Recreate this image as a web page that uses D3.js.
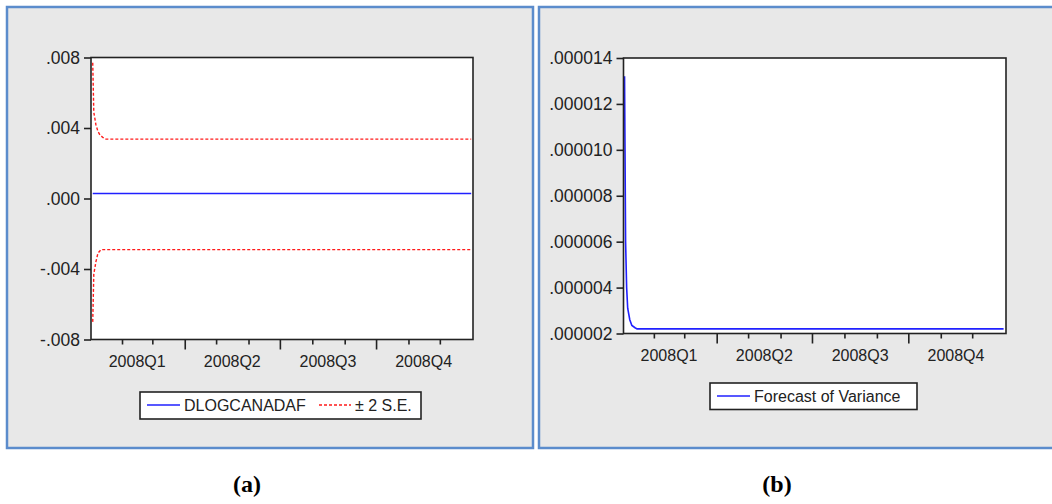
<!DOCTYPE html>
<html>
<head>
<meta charset="utf-8">
<script src="https://cdn.jsdelivr.net/npm/d3@7"></script>
<style>
  body { margin: 0; background: #fff; }
  svg { display: block; font-family: "Liberation Sans", Arial, sans-serif; }
</style>
</head>
<body>
<svg id="chart" width="1052" height="504"></svg>
<script>
// forecast of DLOGCANADAF, 2008 (daily), flat after the first days
const meanDates = ["2008-01-04", "2008-12-31"]
const meanValues = [0.00028, 0.00028]

const upperDates = ["2008-01-04", "2008-01-05", "2008-01-07", "2008-01-09", "2008-01-11", "2008-01-14", "2008-01-16", "2008-12-31"]
const upperValues = [0.0077, 0.0049, 0.0042, 0.0038, 0.0036, 0.00345, 0.00337, 0.00337]

const lowerDates = ["2008-01-04", "2008-01-05", "2008-01-07", "2008-01-09", "2008-01-12", "2008-12-31"]
const lowerValues = [-0.0070, -0.0043, -0.0036, -0.0031, -0.0029, -0.0029]

const varDates = ["2008-01-04", "2008-01-05", "2008-01-06", "2008-01-07", "2008-01-09", "2008-01-11", "2008-01-14", "2008-01-16", "2008-12-31"]
const varValues = [0.0000132, 0.0000060, 0.0000040, 0.0000031, 0.0000026, 0.00000235, 0.00000225, 0.0000022, 0.0000022]

const ticksA = [-0.008, -0.004, 0, 0.004, 0.008]
const ticksB = [0.000002, 0.000004, 0.000006, 0.000008, 0.000010, 0.000012, 0.000014]
const quarterLabels = ["2008Q1", "2008Q2", "2008Q3", "2008Q4"]

const parse = d3.timeParse("%Y-%m-%d")
const zip = (dates, values) => dates.map((d, i) => ({ date: parse(d), value: values[i] }))

const svg = d3.select("#chart")

function panelBox(x0, x1) {
  svg.append("rect")
    .attr("x", x0).attr("y", 7).attr("width", x1 - x0).attr("height", 441)
    .attr("fill", "#e8e8e8").attr("stroke", "#5b8ccc").attr("stroke-width", 2.5)
}

function drawPanel({ frame, dayRange, yDomain, yTicks, yFormat, series, labelY, legend }) {
  const [left, top, right, bottom] = frame
  const x = d3.scaleTime()
    .domain([parse("2008-01-01"), parse("2008-12-31")])
    .range(dayRange)
  const y = d3.scaleLinear().domain(yDomain).range([bottom, top])

  svg.append("rect")
    .attr("x", left).attr("y", top).attr("width", right - left).attr("height", bottom - top)
    .attr("fill", "#fff")

  const line = d3.line().x(d => x(d.date)).y(d => y(d.value))
  series.forEach(s => {
    svg.append("path")
      .datum(s.data)
      .attr("fill", "none")
      .attr("stroke", s.color)
      .attr("stroke-width", s.width)
      .attr("stroke-dasharray", s.dash || null)
      .attr("d", line)
  })

  svg.append("rect")
    .attr("x", left).attr("y", top).attr("width", right - left).attr("height", bottom - top)
    .attr("fill", "none").attr("stroke", "#222").attr("stroke-width", 1.6)

  // y axis
  const gy = svg.append("g")
    .attr("transform", `translate(${left},0)`)
    .call(d3.axisLeft(y).tickValues(yTicks).tickSize(7).tickPadding(4).tickFormat(yFormat))
  gy.select(".domain").remove()
  gy.selectAll("line").attr("stroke", "#222").attr("stroke-width", 1.6)
  gy.selectAll("text").attr("font-size", 17.5).attr("fill", "#222")

  // month ticks (short) and quarter ticks (long)
  const months = d3.timeMonth.range(parse("2008-02-01"), parse("2008-12-31"))
  const quarterStarts = months.filter(m => m.getMonth() % 3 === 0)
  const plainMonths = months.filter(m => m.getMonth() % 3 !== 0)
  const gm = svg.append("g")
    .attr("transform", `translate(0,${bottom})`)
    .call(d3.axisBottom(x).tickValues(plainMonths).tickSize(5).tickFormat(""))
  const gq = svg.append("g")
    .attr("transform", `translate(0,${bottom})`)
    .call(d3.axisBottom(x).tickValues(quarterStarts).tickSize(10).tickFormat(""))
  ;[gm, gq].forEach(g => {
    g.select(".domain").remove()
    g.selectAll("line").attr("stroke", "#222").attr("stroke-width", 1.6)
  })

  // quarter labels at quarter centres
  const qStarts = [parse("2008-01-01"), ...quarterStarts]
  const qEnds = [...quarterStarts, parse("2008-12-31")]
  svg.append("g").selectAll("text")
    .data(quarterLabels)
    .join("text")
    .attr("x", (d, i) => (x(qStarts[i]) + x(qEnds[i])) / 2)
    .attr("y", labelY)
    .attr("text-anchor", "middle")
    .attr("font-size", 16)
    .attr("fill", "#222")
    .text(d => d)

  // legend
  const lg = svg.append("g")
  lg.append("rect")
    .attr("x", legend.box[0]).attr("y", legend.box[1])
    .attr("width", legend.box[2]).attr("height", legend.box[3])
    .attr("fill", "#fff").attr("stroke", "#222").attr("stroke-width", 1.6)
  legend.items.forEach(it => {
    lg.append("line")
      .attr("x1", it.x1).attr("x2", it.x2).attr("y1", legend.cy).attr("y2", legend.cy)
      .attr("stroke", it.color).attr("stroke-width", it.width)
      .attr("stroke-dasharray", it.dash || null)
    lg.append("text")
      .attr("x", it.x2 + 4).attr("y", legend.cy + 6)
      .attr("font-size", 16).attr("fill", "#222")
      .text(it.label)
  })
}

panelBox(7, 533)
panelBox(539, 1056)

const fmtA = d => d3.format(".3f")(d).replace("\u2212", "-").replace("0.", ".")
const fmtB = d => d3.format(".6f")(d).replace("0.", ".")

drawPanel({
  frame: [91, 57.5, 473, 339.5],
  dayRange: [89.6, 471.2],
  yDomain: [-0.008, 0.008],
  yTicks: ticksA,
  yFormat: fmtA,
  labelY: 367,
  series: [
    { data: zip(upperDates, upperValues), color: "#ff1a1a", width: 1.4, dash: "3,2" },
    { data: zip(lowerDates, lowerValues), color: "#ff1a1a", width: 1.4, dash: "3,2" },
    { data: zip(meanDates, meanValues), color: "#2020ff", width: 1.6 }
  ],
  legend: {
    box: [140, 392, 281, 27], cy: 405,
    items: [
      { x1: 147, x2: 180, color: "#2020ff", width: 1.6, label: "DLOGCANADAF" },
      { x1: 319, x2: 351, color: "#ff1a1a", width: 1.4, dash: "3,2", label: "± 2 S.E." }
    ]
  }
})

drawPanel({
  frame: [623.5, 58, 1006, 333.5],
  dayRange: [621.4, 1003.6],
  yDomain: [0.000002, 0.000014],
  yTicks: ticksB,
  yFormat: fmtB,
  labelY: 361,
  series: [
    { data: zip(varDates, varValues), color: "#2020ff", width: 1.6 }
  ],
  legend: {
    box: [710, 383, 207, 26.5], cy: 396,
    items: [
      { x1: 717, x2: 750, color: "#2020ff", width: 1.6, label: "Forecast of Variance" }
    ]
  }
})

// captions
svg.append("g").selectAll("text")
  .data([{ t: "(a)", x: 247 }, { t: "(b)", x: 777 }])
  .join("text")
  .attr("x", d => d.x).attr("y", 492)
  .attr("text-anchor", "middle")
  .attr("font-family", "'Liberation Serif', 'Times New Roman', serif")
  .attr("font-weight", "bold")
  .attr("font-size", 24)
  .text(d => d.t)
</script>
</body>
</html>
